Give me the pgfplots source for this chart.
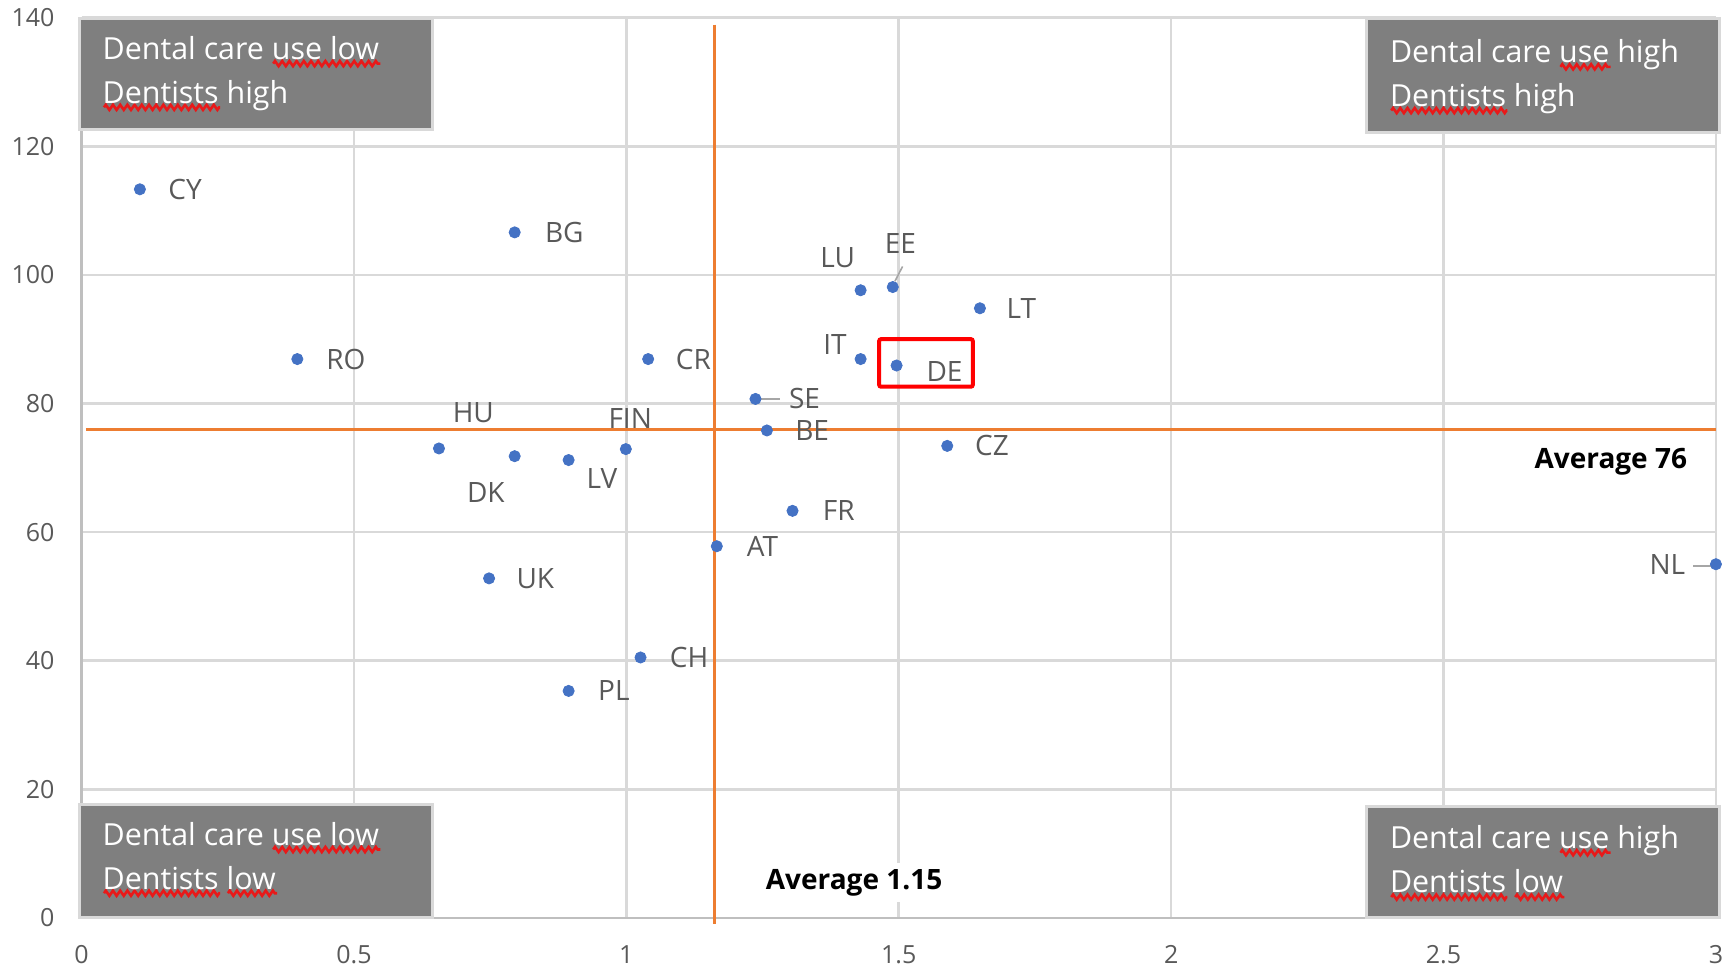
\documentclass[border=0pt]{standalone}
\usepackage{fontspec}
\setmainfont{Open Sans}
\usepackage{pgfplots}
\usepackage{pgfplotstable}
\pgfplotsset{compat=1.18}
\usetikzlibrary{calc,decorations.pathmorphing}
\definecolor{dotblue}{HTML}{4472C4}
\definecolor{avgorange}{HTML}{ED7D31}
\definecolor{gridgray}{HTML}{D9D9D9}
\definecolor{axisgray}{HTML}{BFBFBF}
\definecolor{labgray}{HTML}{595959}
\definecolor{boxgray}{HTML}{7F7F7F}
\definecolor{leadgray}{HTML}{A6A6A6}
\definecolor{squigred}{HTML}{E81919}

\tikzset{
  lab/.style={font=\fontsize{14}{14}\selectfont, text=labgray, inner sep=0pt, anchor=center},
  qtext/.style={font=\fontsize{15.2}{15.2}\selectfont, text=white, inner sep=0pt, anchor=base west},
  qbox/.style={draw=gridgray, line width=1.5pt, fill=boxgray},
}

\newlength\sqw
\newcommand\squig[1]{\settowidth\sqw{#1}\rlap{\raisebox{-5pt}[0pt][0pt]{\tikz[baseline]\draw[squigred,line width=1.3pt,decorate,decoration={zigzag,segment length=3.6pt,amplitude=1.3pt}] (0,0)--(\sqw,0);}}#1}

\pgfplotstableread{
x y
0.107 113.3
0.795 106.6
1.430 97.6
1.489 98.1
1.649 94.8
0.396 86.9
1.040 86.9
1.430 86.9
1.496 85.9
1.237 80.7
1.258 75.8
1.589 73.4
0.656 73.0
0.795 71.8
0.894 71.2
0.999 72.9
1.305 63.3
1.166 57.8
0.748 52.8
3.000 55.0
1.026 40.5
0.894 35.3
}\dentists

\begin{document}
\begin{tikzpicture}
\begin{axis}[
  scale only axis, width=817.2pt, height=450.2pt,
  xmin=0, xmax=3, ymin=0, ymax=140,
  xtick={0,0.5,1,1.5,2,2.5,3},
  xticklabels={0,0.5,1,1.5,2,2.5,3},
  ytick={0,20,40,60,80,100,120,140},
  yticklabels={0,20,40,60,80,100,120,140},
  grid=major, major grid style={gridgray, line width=1.3pt},
  axis x line*=bottom, axis y line*=left,
  axis line style={-, axisgray, line width=1.3pt},
  major tick length=0pt,
  tick label style={font=\fontsize{12.5}{12.5}\selectfont, text=labgray},
  yticklabel style={xshift=-10pt},
  xticklabel style={inner sep=0pt, yshift=-13.5pt},
  clip=false,
]
\coordinate (SW) at (rel axis cs:0,0);
\coordinate (NE) at (rel axis cs:1,1);

% quadrant boxes
\draw[qbox] (axis cs:-0.004,139.9) rectangle (axis cs:0.645,122.6);
\draw[qbox] (axis cs:2.358,139.9) rectangle (axis cs:3.006,122.1);
\draw[qbox] (axis cs:-0.004,17.7) rectangle (axis cs:0.645,0);
\draw[qbox] (axis cs:2.358,17.3) rectangle (axis cs:3.006,0);
\node[qtext] at (axis cs:0.038,133.5) {Dental care \squig{use low}};
\node[qtext] at (axis cs:0.038,126.7) {\squig{Dentists} high};
\node[qtext] at (axis cs:2.401,133.0) {Dental care \squig{use} high};
\node[qtext] at (axis cs:2.401,126.2) {\squig{Dentists} high};
\node[qtext] at (axis cs:0.038,11.3) {Dental care \squig{use low}};
\node[qtext] at (axis cs:0.038,4.5) {\squig{Dentists} \squig{low}};
\node[qtext] at (axis cs:2.401,10.8) {Dental care \squig{use} high};
\node[qtext] at (axis cs:2.401,3.9) {\squig{Dentists} \squig{low}};

% averages
\addplot[avgorange, line width=1.6pt] coordinates {(1.162,138.9) (1.162,-0.9)};
\addplot[avgorange, line width=1.6pt] coordinates {(0.008,76.0) (3.0,76.0)};
\node[fill=white, font=\bfseries\fontsize{14}{14}\selectfont, inner sep=2pt] at (axis cs:2.807,71.0) {Average 76};
\node[fill=white, font=\bfseries\fontsize{14}{14}\selectfont, inner sep=3pt] at (axis cs:1.418,5.5) {Average 1.15};

% leader lines
\draw[leadgray, line width=1pt] (axis cs:1.237,80.7) -- (axis cs:1.282,80.7);
\draw[leadgray, line width=0.8pt] (axis cs:1.493,99.0) -- (axis cs:1.507,101.3);
\draw[leadgray, line width=1pt] (axis cs:2.958,54.8) -- (axis cs:2.998,54.8);

% data
\addplot[only marks, mark=*, mark size=2.8pt, color=dotblue, mark options={draw=dotblue, fill=dotblue}] table[x=x, y=y] {\dentists};

% labels
\node[lab] at (axis cs:0.190,113.3) {CY};
\node[lab] at (axis cs:0.886,106.6) {BG};
\node[lab] at (axis cs:1.388,102.7) {LU};
\node[lab] at (axis cs:1.503,104.9) {EE};
\node[lab] at (axis cs:1.725,94.8) {LT};
\node[lab] at (axis cs:0.485,86.9) {RO};
\node[lab] at (axis cs:1.123,86.9) {CR};
\node[lab] at (axis cs:1.383,89.1) {IT};
\node[lab] at (axis cs:1.584,85.0) {DE};
\node[lab] at (axis cs:1.327,80.7) {SE};
\node[lab] at (axis cs:1.341,75.8) {BE};
\node[lab] at (axis cs:1.671,73.4) {CZ};
\node[lab] at (axis cs:0.719,78.5) {HU};
\node[lab] at (axis cs:1.007,77.6) {FIN};
\node[lab] at (axis cs:0.742,66.1) {DK};
\node[lab] at (axis cs:0.955,68.4) {LV};
\node[lab] at (axis cs:1.390,63.4) {FR};
\node[lab] at (axis cs:1.250,57.8) {AT};
\node[lab] at (axis cs:0.833,52.8) {UK};
\node[lab] at (axis cs:2.911,55.0) {NL};
\node[lab] at (axis cs:1.115,40.5) {CH};
\node[lab] at (axis cs:0.977,35.3) {PL};

% highlight
\draw[red, line width=2pt, rounded corners=1pt] (axis cs:1.464,90.0) rectangle (axis cs:1.636,82.6);
\end{axis}
\pgfresetboundingbox
\path[use as bounding box] ($(SW)+(-40.8pt,-24.5pt)$) rectangle ($(NE)+(6.05pt,8.8pt)$);
\end{tikzpicture}
\end{document}
